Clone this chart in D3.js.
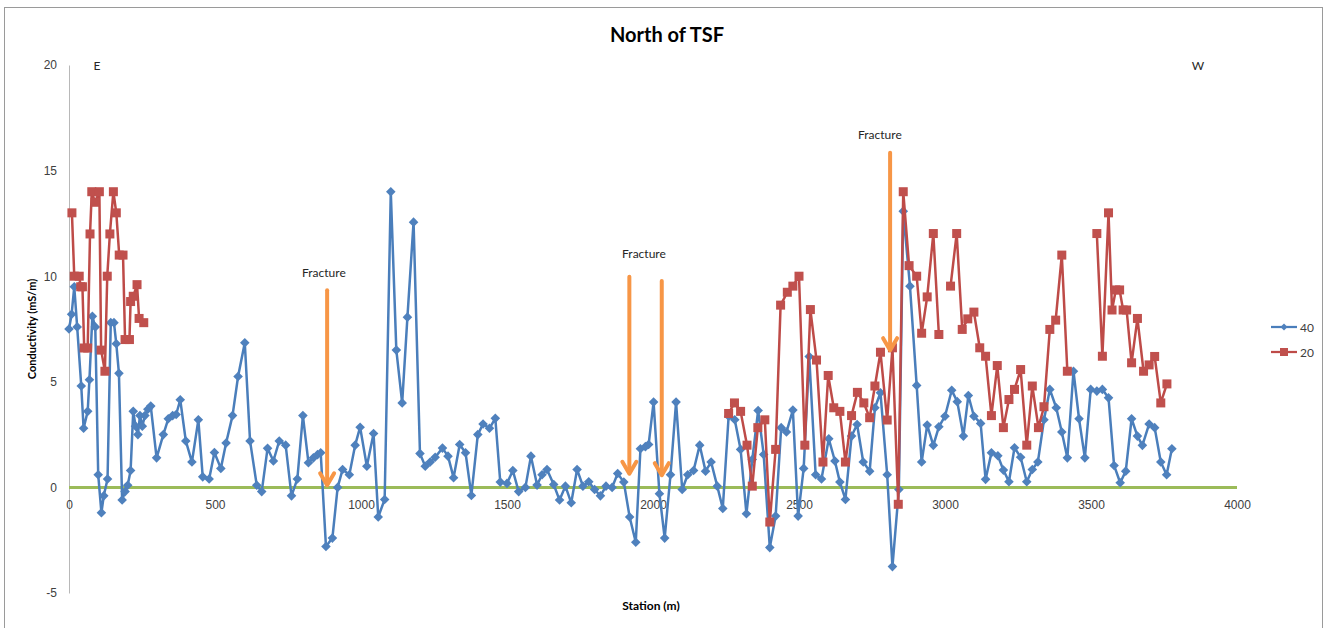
<!DOCTYPE html>
<html>
<head>
<meta charset="utf-8">
<script src="https://cdn.jsdelivr.net/npm/d3@7"></script>
<style>
  body { margin: 0; background: #fff; }
  svg { font-family: Lato, "Open Sans", "DejaVu Sans", sans-serif; }
</style>
</head>
<body>
<script>
// Serie "40": estaciones (m) y conductividad (mS/m)
const stations40 = [0, 9, 18, 28, 42, 50, 64, 70, 80, 90, 100, 111, 119, 132, 143, 154, 162, 171, 182, 192,
  201, 211, 220, 228, 236, 243, 251, 260, 270, 280, 300, 323, 340, 355, 367, 381, 400, 421, 443, 458,
  480, 498, 520, 538, 560, 579, 602, 620, 643, 660, 680, 700, 720, 742, 762, 782, 801, 820, 837, 851,
  862, 880, 902, 920, 937, 960, 980, 997, 1020, 1043, 1059, 1081, 1102, 1121, 1141, 1159, 1180, 1202, 1220, 1237,
  1254, 1279, 1298, 1317, 1338, 1358, 1378, 1400, 1418, 1440, 1460, 1477, 1500, 1520, 1540, 1563, 1582, 1603, 1620, 1637,
  1660, 1680, 1700, 1720, 1740, 1760, 1780, 1800, 1820, 1839, 1860, 1879, 1900, 1920, 1941, 1957, 1974, 1985, 2002, 2022,
  2040, 2060, 2079, 2100, 2119, 2139, 2160, 2180, 2199, 2220, 2239, 2259, 2280, 2300, 2320, 2340, 2360, 2379, 2400, 2420,
  2439, 2457, 2479, 2497, 2516, 2535, 2557, 2577, 2602, 2623, 2640, 2659, 2680, 2699, 2720, 2742, 2760, 2779, 2802, 2820,
  2842, 2857, 2880, 2903, 2920, 2939, 2960, 2979, 3000, 3023, 3042, 3063, 3080, 3099, 3122, 3139, 3159, 3181, 3200, 3219,
  3238, 3259, 3280, 3299, 3318, 3339, 3359, 3381, 3400, 3419, 3440, 3459, 3479, 3499, 3520, 3539, 3560, 3579, 3600, 3619,
  3639, 3659, 3676, 3699, 3718, 3739, 3759, 3777];
const values40 = [7.5, 8.2, 9.5, 7.6, 4.8, 2.8, 3.6, 5.1, 8.1, 7.6, 0.6, -1.2, -0.4, 0.4, 7.8, 7.8, 6.8, 5.4, -0.6, -0.2,
  0.1, 0.8, 3.6, 2.9, 2.5, 3.4, 2.9, 3.4, 3.7, 3.85, 1.4, 2.5, 3.25, 3.4, 3.45, 4.15, 2.2, 1.2, 3.2, 0.5,
  0.4, 1.65, 0.9, 2.1, 3.4, 5.25, 6.85, 2.2, 0.1, -0.2, 1.85, 1.25, 2.2, 2.0, -0.4, 0.4, 3.4, 1.17, 1.4, 1.55,
  1.64, -2.8, -2.4, 0, 0.85, 0.6, 2.0, 2.85, 1.0, 2.55, -1.4, -0.57, 14.0, 6.5, 4.0, 8.06, 12.56, 1.6, 1.0, 1.2,
  1.43, 1.86, 1.48, 0.46, 2.03, 1.64, -0.38, 2.5, 3.0, 2.8, 3.27, 0.25, 0.19, 0.8, -0.2, 0, 1.48, 0.11, 0.6, 0.85,
  0.14, -0.6, 0.06, -0.73, 0.85, 0.06, 0.27, -0.1, -0.4, 0.06, 0, 0.66, 0.25, -1.4, -2.6, 1.83, 1.93, 2.03, 4.04, -0.3,
  -2.4, 0.6, 4.04, -0.1, 0.6, 0.8, 2.0, 0.77, 1.2, 0.06, -1.0, 3.37, 3.2, 1.8, -1.25, 1.32, 3.64, 1.56, -2.85, -1.36,
  2.83, 2.62, 3.66, -1.36, 0.9, 6.2, 0.6, 0.4, 2.3, 1.25, 0.25, -0.57, 2.43, 2.98, 1.2, 0.77, 3.77, 4.48, 0.6, -3.75,
  -0.1, 13.08, 9.53, 4.83, 1.2, 2.95, 1.99, 2.87, 3.37, 4.6, 4.06, 2.43, 4.35, 3.37, 3.03, 0.38, 1.64, 1.5, 0.82, 0.27,
  1.88, 1.43, 0.27, 0.85, 1.2, 3.2, 4.64, 3.77, 2.62, 1.4, 5.5, 3.25, 1.4, 4.64, 4.56, 4.64, 4.24, 1.04, 0.22, 0.77,
  3.25, 2.43, 1.99, 3.0, 2.83, 1.2, 0.6, 1.83];

// Serie "20": null = sin dato (hueco en la línea)
const stations20 = [10, 18, 35, 40, 46, 52, 64, 72, 78, 89, 104, 110, 123, 131, 140, 152, 162, 172, 185, 192,
  207, 211, 220, 233, 240, 256, 1000,
  2259, 2279, 2300, 2322, 2340, 2359, 2383, 2400, 2420, 2437, 2460, 2479, 2500, 2520, 2539, 2560, 2582, 2600, 2619,
  2640, 2659, 2680, 2700, 2722, 2742, 2760, 2779, 2802, 2820, 2840, 2857, 2877, 2903, 2920, 2939, 2960, 2979, 3000,
  3019, 3040, 3059, 3078, 3099, 3119, 3139, 3159, 3179, 3200, 3219, 3238, 3259, 3280, 3299, 3320, 3339, 3359, 3379, 3400,
  3419, 3470,
  3520, 3539, 3560, 3572, 3585, 3598, 3610, 3622, 3639, 3659, 3680, 3699, 3718, 3739, 3760];
const values20 = [13.0, 10.0, 10.0, 9.5, 9.5, 6.6, 6.6, 12.0, 14.0, 13.5, 14.0, 6.5, 5.5, 10.0, 12.0, 14.0, 13.0, 11.0, 11.0, 7.0,
  7.0, 8.8, 9.05, 9.6, 8.0, 7.8, null,
  3.5, 4.0, 3.6, 2.0, 0.06, 2.83, 3.2, -1.64, 1.8, 8.63, 9.24, 9.53, 10.0, 2.0, 8.42, 6.03, 1.2, 5.3, 3.77,
  3.6, 1.2, 3.4, 4.5, 4.0, 3.3, 4.8, 6.4, 3.19, 6.61, -0.8, 14.0, 10.5, 10.0, 7.3, 9.02, 12.02, 7.24, null,
  9.53, 12.02, 7.48, 7.98, 8.3, 6.61, 6.21, 3.4, 5.77, 2.83, 4.16, 4.64, 5.58, 2.0, 4.8, 2.83, 3.82, 7.48, 7.92, 11.0,
  5.5, null,
  12.02, 6.21, 13.0, 8.4, 9.35, 9.35, 8.4, 8.4, 5.9, 8.0, 5.5, 5.8, 6.2, 4.0, 4.9];

// Ejes
const xTicks = [0, 500, 1000, 1500, 2000, 2500, 3000, 3500, 4000];
const yTicks = [-5, 0, 5, 10, 15, 20];

// Flechas "Fracture": estación, valor inicial, valor final
const arrowStations = [884, 1919, 2030, 2812];
const arrowFrom = [9.33, 9.97, 9.77, 15.85];
const arrowTo = [0.05, 0.6, 0.53, 6.45];
const labelStations = [873, 1969, 2777];
const labelValues = [10.17, 11.07, 16.7];

const width = 1329, height = 628;
const margin = { left: 69, right: 92, top: 65, bottom: 35 };

const svg = d3.select("body").append("svg")
  .attr("width", width)
  .attr("height", height);

// Marco del gráfico
svg.append("rect")
  .attr("x", 4.5).attr("y", 7.5)
  .attr("width", 1318).attr("height", 660)
  .attr("fill", "none")
  .attr("stroke", "#9a9a9a");

const x = d3.scaleLinear().domain([0, 4000]).range([margin.left, width - margin.right]);
const y = d3.scaleLinear().domain([-5, 20]).range([height - margin.bottom, margin.top]);

// Eje Y (línea gris sin marcas)
const yAxis = svg.append("g")
  .attr("transform", `translate(${margin.left},0)`)
  .call(d3.axisLeft(y).tickValues(yTicks).tickSize(0).tickPadding(12).tickFormat(d => String(d)));
yAxis.select(".domain").attr("stroke", "#b8b8b8");
yAxis.selectAll("text").style("font-size", "12px").attr("fill", "#404040");

// Eje X en y = 0
const xAxis = svg.append("g")
  .attr("transform", `translate(0,${y(0)})`)
  .call(d3.axisBottom(x).tickValues(xTicks).tickSize(0).tickPadding(13).tickFormat(d => String(d)));
xAxis.select(".domain").remove();
xAxis.selectAll("text").style("font-size", "12px").attr("fill", "#404040");

// Línea verde de referencia en 0
svg.append("line")
  .attr("x1", x(0)).attr("x2", x(4000))
  .attr("y1", y(0)).attr("y2", y(0))
  .attr("stroke", "#9BBB59")
  .attr("stroke-width", 3);

const line = d3.line()
  .defined(d => d[1] != null)
  .x(d => x(d[0]))
  .y(d => y(d[1]));

const data40 = stations40.map((s, i) => [s, values40[i]]);
const data20 = stations20.map((s, i) => [s, values20[i]]);

// Serie 40
svg.append("path")
  .datum(data40)
  .attr("d", line)
  .attr("fill", "none")
  .attr("stroke", "#4A7EBB")
  .attr("stroke-width", 2.5)
  .attr("stroke-linejoin", "round");

const diamond = "M0,-4.8L4.8,0L0,4.8L-4.8,0Z";
svg.append("g").selectAll("path")
  .data(data40)
  .enter()
  .append("path")
  .attr("d", diamond)
  .attr("transform", d => `translate(${x(d[0])},${y(d[1])})`)
  .attr("fill", "#4F81BD");

// Serie 20
svg.append("path")
  .datum(data20)
  .attr("d", line)
  .attr("fill", "none")
  .attr("stroke", "#BE4B48")
  .attr("stroke-width", 2.5)
  .attr("stroke-linejoin", "round");

svg.append("g").selectAll("rect")
  .data(data20.filter(d => d[1] != null))
  .enter()
  .append("rect")
  .attr("x", d => x(d[0]) - 4.5)
  .attr("y", d => y(d[1]) - 4.5)
  .attr("width", 9)
  .attr("height", 9)
  .attr("fill", "#C0504D");

// Flechas naranjas
const arrows = svg.append("g")
  .attr("stroke", "#F79646")
  .attr("stroke-width", 4)
  .attr("fill", "none")
  .attr("stroke-linecap", "round")
  .attr("stroke-linejoin", "round");

arrowStations.forEach((s, i) => {
  const ax = x(s), y1 = y(arrowFrom[i]), y2 = y(arrowTo[i]);
  arrows.append("line")
    .attr("x1", ax).attr("x2", ax)
    .attr("y1", y1).attr("y2", y2 - 2);
  arrows.append("path")
    .attr("d", `M${ax - 7},${y2 - 13}L${ax},${y2 - 1}L${ax + 7},${y2 - 13}`);
});

// Etiquetas "Fracture"
svg.append("g").selectAll("text")
  .data(labelStations)
  .enter()
  .append("text")
  .attr("x", d => x(d))
  .attr("y", (d, i) => y(labelValues[i]) + 4)
  .attr("text-anchor", "middle")
  .style("font-size", "12px")
  .attr("fill", "#262626")
  .text("Fracture");

// Título y rótulos
svg.append("text")
  .attr("x", 667).attr("y", 42)
  .attr("text-anchor", "middle")
  .style("font-size", "20px")
  .style("font-weight", "bold")
  .text("North of TSF");

svg.append("text")
  .attr("x", 97).attr("y", 70)
  .attr("text-anchor", "middle")
  .style("font-size", "12px")
  .attr("fill", "#262626")
  .text("E");

svg.append("text")
  .attr("x", 1198).attr("y", 70)
  .attr("text-anchor", "middle")
  .style("font-size", "12px")
  .attr("fill", "#262626")
  .text("W");

svg.append("text")
  .attr("transform", `translate(36,${(y(20) + y(-5)) / 2}) rotate(-90)`)
  .attr("text-anchor", "middle")
  .style("font-size", "11px")
  .style("font-weight", "bold")
  .text("Conductivity (mS/m)");

svg.append("text")
  .attr("x", 651).attr("y", 610)
  .attr("text-anchor", "middle")
  .style("font-size", "12px")
  .style("font-weight", "bold")
  .text("Station (m)");

// Leyenda
const legend = svg.append("g").attr("transform", "translate(1271,327)");

legend.append("line")
  .attr("x1", 0).attr("x2", 26).attr("y1", 0).attr("y2", 0)
  .attr("stroke", "#4A7EBB").attr("stroke-width", 2.25);
legend.append("path")
  .attr("d", "M0,-3.5L3.5,0L0,3.5L-3.5,0Z")
  .attr("transform", "translate(13,0)")
  .attr("fill", "#4F81BD");
legend.append("text")
  .attr("x", 29).attr("y", 4.5)
  .style("font-size", "12px").attr("fill", "#404040")
  .text("40");

legend.append("line")
  .attr("x1", 0).attr("x2", 26).attr("y1", 25).attr("y2", 25)
  .attr("stroke", "#BE4B48").attr("stroke-width", 2.25);
legend.append("rect")
  .attr("x", 9).attr("y", 21).attr("width", 8).attr("height", 8)
  .attr("fill", "#C0504D");
legend.append("text")
  .attr("x", 29).attr("y", 29.5)
  .style("font-size", "12px").attr("fill", "#404040")
  .text("20");
</script>
</body>
</html>
